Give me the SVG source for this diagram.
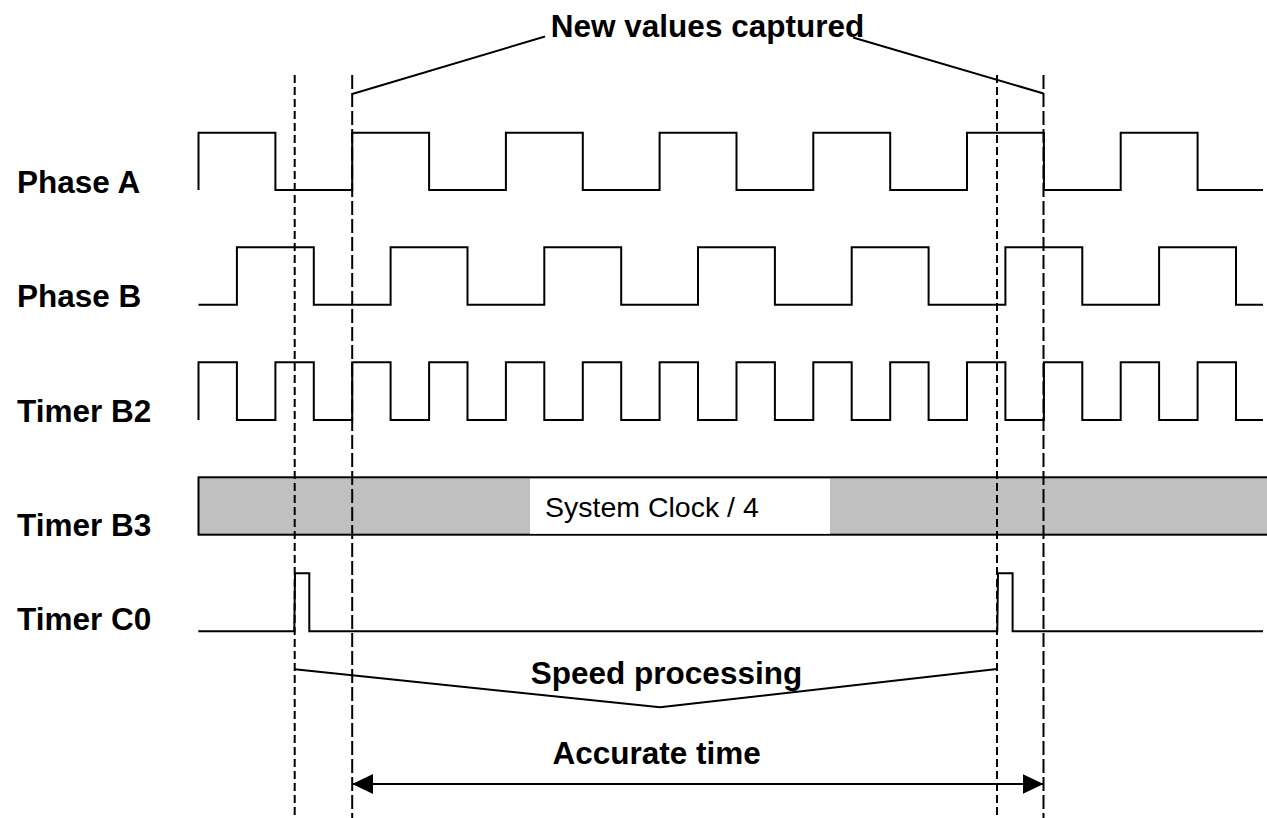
<svg xmlns="http://www.w3.org/2000/svg" width="1267" height="818" viewBox="0 0 1267 818">
<style>
.sig{fill:none;stroke:#000;stroke-width:2;stroke-linejoin:miter}
.lbl{font-family:"Liberation Sans",Arial,sans-serif;font-weight:bold;font-size:31.5px;fill:#000}
.note{font-family:"Liberation Sans",Arial,sans-serif;font-weight:bold;font-size:31.5px;fill:#000;text-anchor:middle}
.dshort{fill:none;stroke:#000;stroke-width:2;stroke-dasharray:8,4}
.dlong{fill:none;stroke:#000;stroke-width:2;stroke-dasharray:14,4}
.call{fill:none;stroke:#000;stroke-width:2}
</style>
<defs>
<marker id="ah" viewBox="0 0 21 20" refX="21" refY="10" markerWidth="21" markerHeight="20" markerUnits="userSpaceOnUse" orient="auto-start-reverse">
<path d="M0,0 L21,10 L0,20 z" fill="#000"/>
</marker>
</defs>
<rect width="1267" height="818" fill="#fff"/>

<g id="phaseA">
<text class="lbl" x="17" y="193">Phase A</text>
<path class="sig" d="M198.5,190 V132.7 H275.4 V190 H352.2 V132.7 H429.1 V190 H505.9 V132.7 H582.8 V190 H659.6 V132.7 H736.5 V190 H813.3 V132.7 H890.2 V190 H967 V132.7 H1043.9 V190 H1120.7 V132.7 H1197.6 V190 H1263"/>
</g>

<g id="phaseB">
<text class="lbl" x="17" y="306.5">Phase B</text>
<path class="sig" d="M198.5,304.7 H236.9 V247.3 H313.8 V304.7 H390.6 V247.3 H467.5 V304.7 H544.3 V247.3 H621.2 V304.7 H698 V247.3 H774.9 V304.7 H851.7 V247.3 H928.6 V304.7 H1005.4 V247.3 H1082.3 V304.7 H1159.1 V247.3 H1236 V304.7 H1263"/>
</g>

<g id="timerB2">
<text class="lbl" x="17" y="421.5">Timer B2</text>
<path class="sig" d="M198.5,420 V362.3 H236.9 V420 H275.4 V362.3 H313.8 V420 H352.2 V362.3 H390.6 V420 H429.1 V362.3 H467.5 V420 H505.9 V362.3 H544.3 V420 H582.8 V362.3 H621.2 V420 H659.6 V362.3 H698 V420 H736.5 V362.3 H774.9 V420 H813.3 V362.3 H851.7 V420 H890.2 V362.3 H928.6 V420 H967 V362.3 H1005.4 V420 H1043.9 V362.3 H1082.3 V420 H1120.7 V362.3 H1159.1 V420 H1197.6 V362.3 H1236 V420 H1263"/>
</g>

<g id="timerB3">
<text class="lbl" x="17" y="536">Timer B3</text>
<rect x="198.5" y="477.3" width="1070" height="57.4" fill="#c0c0c0" stroke="#000" stroke-width="2"/>
<rect x="530" y="478.8" width="300" height="55" fill="#fff"/>
<text x="545" y="516.5" font-family="Liberation Sans, Arial, sans-serif" font-size="28.5" fill="#000">System Clock / 4</text>
</g>

<g id="timerC0">
<text class="lbl" x="17" y="630">Timer C0</text>
<path class="sig" d="M198.3,631.3 H294.3 L295,573.3 H309.3 V631.3 H997.3 L998,573.3 H1012.6 V631.3 H1263"/>
</g>

<g id="connectors">
<line class="dshort" x1="294.7" y1="75" x2="294.7" y2="818"/>
<line class="dlong" x1="352.2" y1="75" x2="352.2" y2="818"/>
<line class="dshort" x1="997" y1="75" x2="997" y2="818"/>
<line class="dlong" x1="1043.5" y1="75" x2="1043.5" y2="818"/>
<polyline class="call" points="352.2,94 545,36.5"/>
<polyline class="call" points="853,37.5 1043.5,93.5"/>
<polyline class="call" points="294.7,669.3 660,707.3 997,669"/>
<line class="call" x1="352.2" y1="784" x2="1043.5" y2="784" marker-start="url(#ah)" marker-end="url(#ah)"/>
</g>

<g id="notes">
<text class="note" x="707.5" y="37">New values captured</text>
<text class="note" x="666.5" y="684">Speed processing</text>
<text class="note" x="656.7" y="764">Accurate time</text>
</g>
</svg>
